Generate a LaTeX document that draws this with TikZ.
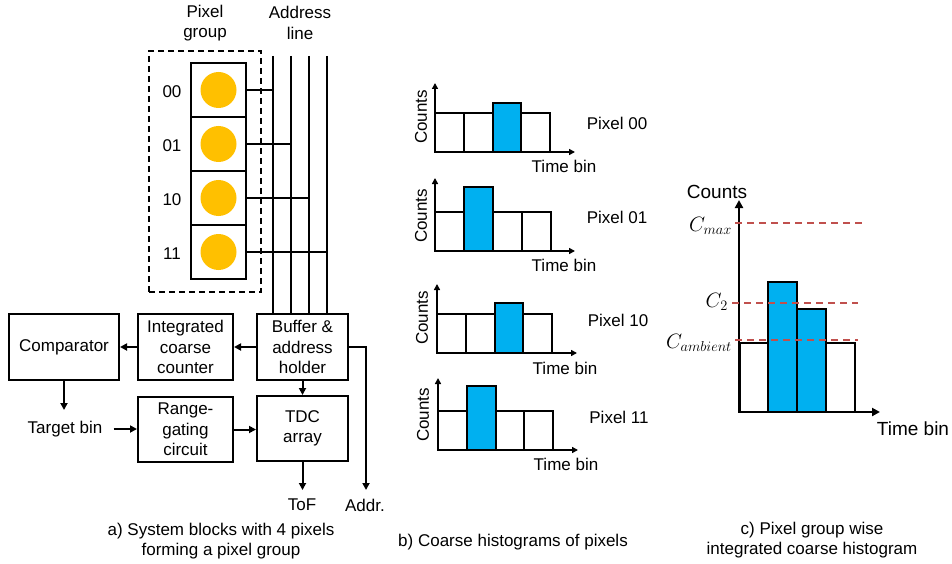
\documentclass[tikz,border=0pt]{standalone}
\usepackage{fontspec}
\setmainfont{Liberation Sans}
\usetikzlibrary{arrows.meta}
\definecolor{pixy}{HTML}{FFC000}
\definecolor{barblue}{HTML}{00B0F0}
\definecolor{dred}{HTML}{C0504D}
% #1 axis x, #2 base y, #3 axis top y, #4 normal bar top, #5 blue bar top, #6 blue index (0..3), #7 bar width
\newcommand\minihist[7]{%
  \foreach \i in {0,1,2,3}{\draw[bar] ({#1+\i*#7},#2) rectangle ({#1+(\i+1)*#7},#4);}
  \draw[bluebar] ({#1+#6*#7},#2) rectangle ({#1+(#6+1)*#7},#5);
  \draw[axis] (#1,#3) -- (#1,#2) -- ({#1+140},#2);
}
\begin{document}
\begin{tikzpicture}[x=1pt,y=-1pt,
  every node/.style={font=\fontsize{17}{20.5}\selectfont, inner sep=0pt},
  blk/.style={draw, line width=2pt, align=center, fill=white},
  arr/.style={line width=2pt, -{Triangle[length=7pt,width=7pt]}},
  wire/.style={line width=2pt},
  bar/.style={draw, line width=2pt, fill=white},
  bluebar/.style={bar, fill=barblue},
  axis/.style={line width=2pt, {Triangle[length=6pt,width=6pt]}-{Triangle[length=6pt,width=6pt]}},
  bigaxis/.style={line width=2.4pt, {Triangle[length=8pt,width=8pt]}-{Triangle[length=8pt,width=8pt]}},
  thr/.style={draw=dred, line width=1.6pt, dash pattern=on 7pt off 5pt},
  big/.style={font=\fontsize{19}{22}\selectfont},
  mathlbl/.style={font=\fontsize{20.5}{24}\selectfont, anchor=east},
]
\useasboundingbox (0,0) rectangle (952,564);

% ---------- a) pixel group ----------
\node[align=center] (lpg) at (205,23) {Pixel\\group};
\node[align=center] (lal) at (300,23) {Address\\line};
\node[draw, dashed, line width=1.5pt, dash pattern=on 6pt off 4pt, minimum width=112pt, minimum height=241pt] (grp) at (205,171.5) {};

\foreach \n/\y in {00/90,01/144,10/198,11/252}{
  \node[draw, line width=2pt, minimum width=55pt, minimum height=54pt] (p\n) at (218.5,\y) {};
  \node[circle, fill=pixy, minimum size=36pt] (c\n) at (p\n) {};
  \node (l\n) at (172,\y+2) {\n};
}

% blocks
\node[blk, minimum width=110pt, minimum height=66pt] (comp) at (64,347) {Comparator};
\node[blk, minimum width=95pt, minimum height=66pt] (icc) at (185.5,347) {Integrated\\coarse\\counter};
\node[blk, minimum width=91pt, minimum height=66pt] (buf) at (302.5,347) {Buffer \&\\address\\holder};
\node[blk, minimum width=95pt, minimum height=65pt] (rg) at (185.5,429.5) {Range-\\gating\\circuit};
\node[blk, minimum width=91pt, minimum height=65pt] (tdc) at (302.5,428.5) {TDC\\array};

% address lines
\coordinate (a1) at (273,56);
\coordinate (a2) at (291,56);
\coordinate (a3) at (309,56);
\coordinate (a4) at (327,56);
\foreach \a in {a1,a2,a3,a4}{\draw[wire] (\a) -- (\a |- buf.north);}
\draw[wire] (p00.east) -- (p00.east -| a1);
\draw[wire] (p01.east) -- (p01.east -| a2);
\draw[wire] (p10.east) -- (p10.east -| a3);
\draw[wire] (p11.east) -- (p11.east -| a4);

% arrows
\draw[arr] (buf.west) -- (icc.east);
\draw[arr] (icc.west) -- (comp.east);
\coordinate (tbt) at (64,410);
\draw[arr] (comp.south) -- (tbt);
\node (tb) at (65,429) {Target bin};
\draw[arr, shorten <=11pt] (tb.east) -- (rg.west |- tb.east);
\draw[arr] (rg.east) -- (tdc.west |- rg.east);
\draw[arr] (buf.south) -- (tdc.north);
\coordinate (tofend) at (302.5,490);
\draw[arr] (tdc.south) -- (tofend);
\node (tof) at (302,505) {ToF};
\coordinate (addrend) at (366,490);
\draw[arr] (buf.east) -| (addrend);
\node (addr) at (365,505) {Addr.};

\node[align=center] (capa) at (221,541) {a) System blocks with 4 pixels\\forming a pixel group};

% ---------- b) histograms ----------
\minihist{435}{152}{83}{113}{103}{2}{28.75}
\minihist{435}{251}{178}{212}{187}{1}{29}
\minihist{437}{353}{284}{314}{303}{2}{28.75}
\minihist{438}{450}{378}{411}{386}{1}{28.75}

\node[rotate=90] (cnt1) at (421,117) {Counts};
\node[rotate=90] (cnt2) at (421,216) {Counts};
\node[rotate=90] (cnt3) at (422,318) {Counts};
\node[rotate=90] (cnt4) at (423,415) {Counts};
\node (tb1) at (564,166) {Time bin};
\node (tb2) at (564,265) {Time bin};
\node (tb3) at (565,368) {Time bin};
\node (tb4) at (566,464) {Time bin};
\node (px1) at (617,123) {Pixel 00};
\node (px2) at (617,217) {Pixel 01};
\node (px3) at (618,320) {Pixel 10};
\node (px4) at (619,417) {Pixel 11};

\node (capb) at (513,542) {b) Coarse histograms of pixels};

% ---------- c) integrated histogram ----------
\draw[bar] (740,412) rectangle (768,343);
\draw[bar] (826,412) rectangle (855,343);
\draw[bluebar] (768,412) rectangle (797,282);
\draw[bluebar] (797,412) rectangle (826,309);
\draw[bigaxis] (739,200) -- (739,412) -- (880,412);
\draw[thr] (735,223) -- (862,223);
\draw[thr] (732,303) -- (858,303);
\draw[thr] (735,340) -- (858,340);
\node[mathlbl] (cmax) at (732,226) {$C_{max}$};
\node[mathlbl] (c2) at (728,302) {$C_{2}$};
\node[mathlbl] (camb) at (732,343) {$C_{ambient}$};
\node[big] (cntc) at (717,192) {Counts};
\node[big] (tbc) at (913,429) {Time bin};

\node[align=center] (capc) at (812,540) {c) Pixel group wise\\integrated coarse histogram};
\end{tikzpicture}
\end{document}
